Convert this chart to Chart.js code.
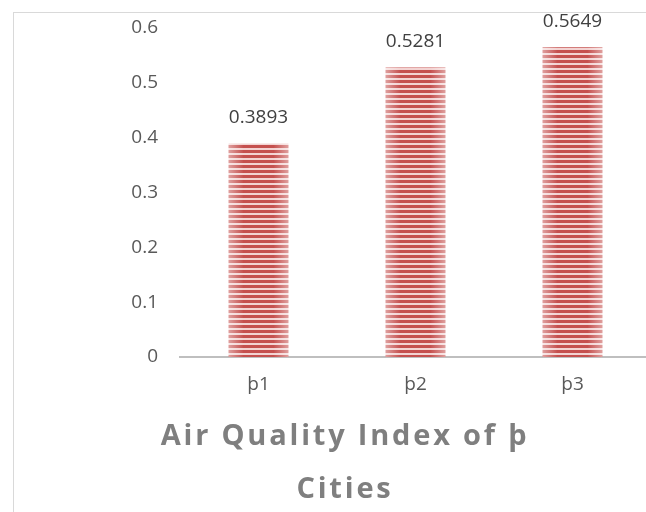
<!DOCTYPE html>
<html>
<head>
<meta charset="utf-8">
<script src="https://cdn.jsdelivr.net/npm/chart.js@4.4.0/dist/chart.umd.min.js"></script>
<style>
  html, body { margin: 0; padding: 0; background: #fff; overflow: hidden; width: 646px; height: 512px; }
  .frame { position: absolute; left: 13px; top: 12px; width: 700px; height: 600px; border: 1px solid #d9d9d9; box-sizing: border-box; }
  .wrap { position: absolute; left: 0; top: 0; width: 690px; height: 516px; }
</style>
</head>
<body>
<div class="frame"></div>
<div class="wrap"><canvas id="aqi"></canvas></div>
<script>
// chart data
const cities = ['þ1', 'þ2', 'þ3'];
const aqiValues = [0.3893, 0.5281, 0.5649];
const yTicks = [0, 0.1, 0.2, 0.3, 0.4, 0.5, 0.6];
const titleLines = ['Air Quality Index of þ', 'Cities'];

const FONT = '"Open Sans", sans-serif';

// striped fill, like the office pattern fill
function makeStripes(ctx) {
    const c = document.createElement('canvas');
    c.width = 4; c.height = 5;
    const p = c.getContext('2d');
    p.fillStyle = '#f3d3d2';
    p.fillRect(0, 0, 4, 5);
    p.fillStyle = '#c5504e';
    p.fillRect(0, 0, 4, 3);
    return ctx.createPattern(c, 'repeat');
}

const barExtras = {
    id: 'barExtras',
    beforeDraw(chart) {
        // title is drawn first, with spaced letters
        chart.ctx.letterSpacing = '2.8px';
    },
    beforeDatasetsDraw(chart) {
        chart.ctx.letterSpacing = '0px';
    },
    afterDatasetsDraw(chart) {
        const ctx = chart.ctx;
        const meta = chart.getDatasetMeta(0);
        meta.data.forEach((bar, i) => {
            const left = bar.x - bar.width / 2;
            const right = bar.x + bar.width / 2;
            // soft highlight at the edges
            const g = ctx.createLinearGradient(left, 0, right, 0);
            g.addColorStop(0, 'rgba(255,255,255,0.45)');
            g.addColorStop(0.25, 'rgba(255,255,255,0)');
            g.addColorStop(0.75, 'rgba(255,255,255,0)');
            g.addColorStop(1, 'rgba(255,255,255,0.45)');
            ctx.save();
            ctx.fillStyle = g;
            ctx.fillRect(left, bar.y, bar.width, bar.base - bar.y);
            // value label
            ctx.fillStyle = '#404040';
            ctx.font = '19px ' + FONT;
            ctx.textAlign = 'center';
            ctx.textBaseline = 'middle';
            ctx.fillText(aqiValues[i].toString(), bar.x, bar.y - 26);
            ctx.restore();
        });
    }
};

const canvas = document.getElementById('aqi');
const ctx = canvas.getContext('2d');

new Chart(ctx, {
    type: 'bar',
    data: {
        labels: cities,
        datasets: [{
            data: aqiValues,
            backgroundColor: makeStripes(ctx),
            borderWidth: 0,
            barPercentage: 0.38,
            categoryPercentage: 1
        }]
    },
    options: {
        responsive: true,
        maintainAspectRatio: false,
        animation: false,
        layout: { padding: { top: 28, right: 39, left: 39, bottom: 0 } },
        plugins: {
            legend: { display: false },
            tooltip: { enabled: false },
            title: {
                display: true,
                position: 'bottom',
                text: titleLines,
                color: '#7f7f7f',
                font: { family: FONT, size: 29, weight: 'bold', lineHeight: 1.83 },
                padding: { top: -2, bottom: 0 }
            }
        },
        scales: {
            x: {
                grid: { display: false, drawTicks: false },
                border: { display: true, color: '#bfbfbf', width: 2 },
                ticks: { z: 1, color: '#595959', font: { family: FONT, size: 19 }, padding: 16 }
            },
            y: {
                min: 0,
                max: 0.6,
                grid: { display: false, drawTicks: false },
                border: { display: false },
                afterBuildTicks: (scale) => { scale.ticks = yTicks.map(v => ({ value: v })); },
                afterFit: (scale) => {
                    scale.width = 141;
                    // tick padding is horizontal only here
                    scale.paddingTop = 0;
                    scale.paddingBottom = 0;
                },
                ticks: {
                    z: 1,
                    color: '#595959',
                    font: { family: FONT, size: 19 },
                    padding: 22,
                    callback: (v) => String(Math.round(v * 10) / 10)
                }
            }
        }
    },
    plugins: [barExtras]
});
</script>
</body>
</html>
